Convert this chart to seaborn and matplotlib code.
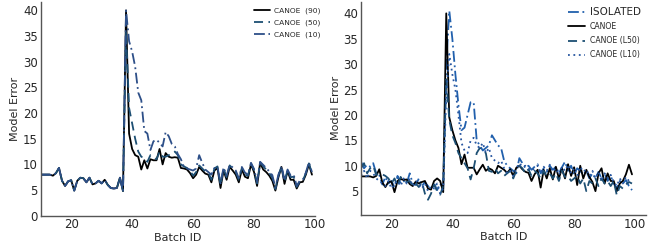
import numpy as np
import pandas as pd
import matplotlib
matplotlib.use("Agg")
import matplotlib.pyplot as plt
import seaborn as sns

batch = list(range(10, 100))

# left panel: shared part before the spike (batch 10..37)
pre_left = [8.0, 8.0, 8.0, 8.0, 7.8, 8.3, 9.3, 6.8, 5.8, 6.7, 6.9, 4.9, 6.8, 7.4,
            7.3, 6.5, 7.4, 6.1, 6.3, 6.8, 6.3, 7.0, 6.0, 5.4, 5.3, 5.4, 7.4, 4.8]
canoe90_post = [40.0, 16.0, 13.0, 11.8, 11.5, 9.0, 10.8, 9.2, 11.0, 10.8, 10.8, 13.0,
                10.0, 12.2, 11.5, 11.3, 11.4, 11.3, 9.3, 9.2, 9.0, 8.3, 7.3, 8.0, 9.5,
                8.8, 8.2, 8.0, 6.5, 8.8, 9.3, 5.4, 8.8, 7.0, 9.5, 8.8, 8.0, 6.5, 9.0,
                7.6, 7.3, 10.0, 8.5, 5.8, 10.3, 9.0, 8.5, 7.8, 6.8, 4.9, 7.5, 9.5, 6.2,
                8.7, 7.0, 7.0, 5.3, 6.5, 6.6, 8.0, 10.0, 8.0]
canoe50_post = [36.0, 21.0, 18.0, 15.0, 12.5, 11.5, 11.2, 10.5, 11.8, 11.5, 11.0, 12.5,
                11.5, 11.5, 11.8, 12.0, 12.5, 11.8, 10.0, 9.6, 9.3, 8.8, 7.8, 8.5, 9.8,
                9.2, 8.6, 8.4, 7.0, 9.2, 9.6, 6.0, 9.2, 7.5, 9.8, 9.2, 8.5, 7.0, 9.3,
                8.0, 7.8, 10.2, 8.9, 6.3, 10.4, 9.6, 9.0, 8.3, 7.4, 5.2, 7.8, 9.6, 6.6,
                8.9, 7.5, 7.6, 5.6, 6.7, 6.8, 8.3, 10.2, 8.3]
canoe10_post = [40.0, 34.0, 32.0, 29.0, 24.0, 22.5, 16.5, 16.0, 12.8, 14.5, 14.8, 14.2,
                13.5, 16.3, 15.5, 14.0, 13.5, 12.0, 11.0, 9.5, 9.2, 9.0, 8.8, 9.2, 11.8,
                10.3, 9.0, 8.5, 8.0, 9.3, 9.5, 6.3, 9.4, 7.8, 9.9, 9.4, 8.8, 7.3, 9.5,
                8.4, 8.0, 10.3, 9.1, 6.6, 10.5, 9.9, 9.3, 8.6, 7.9, 5.5, 8.0, 9.7, 6.9,
                9.0, 7.8, 8.0, 5.8, 6.8, 7.0, 8.4, 10.4, 8.5]

# right panel
isolated = [10.8, 9.5, 10.2, 9.8, 10.5, 8.5, 8.2, 6.3, 7.8, 6.5, 7.0, 5.8, 8.0, 6.5,
            7.0, 6.5, 8.5, 6.5, 6.2, 7.5, 6.0, 6.8, 6.0, 5.5, 6.5, 5.2, 6.5, 5.5,
            30.0, 40.5, 35.0, 28.0, 22.0, 17.0, 17.5, 20.0, 22.5, 22.5, 15.0, 14.0,
            13.0, 13.5, 14.0, 16.0, 15.0, 14.0, 13.5, 11.0, 10.0, 9.5, 9.0, 8.5, 11.5,
            10.5, 9.5, 10.0, 9.2, 9.8, 10.3, 8.5, 9.5, 8.8, 10.0, 9.2, 9.8, 8.5, 9.7,
            10.8, 9.0, 10.0, 8.3, 9.5, 9.0, 8.2, 9.0, 7.5, 8.5, 7.5, 8.8, 7.5, 8.5,
            7.0, 8.0, 6.5, 5.5, 7.0, 6.5, 7.2, 6.0, 5.2]
canoe = [7.9, 7.9, 7.9, 7.9, 7.7, 8.0, 9.3, 6.7, 5.8, 6.8, 6.9, 4.8, 7.0, 7.4,
         7.2, 7.3, 6.4, 6.0, 6.9, 6.5, 6.8, 7.0, 5.5, 5.3, 7.0, 7.5, 7.0, 4.8,
         40.0, 19.5, 17.0, 15.0, 13.5, 10.3, 12.2, 9.6, 9.6, 9.6, 8.3, 9.3, 10.2,
         9.0, 9.5, 9.2, 8.5, 10.0, 9.6, 9.2, 8.6, 9.3, 8.0, 9.6, 10.0, 9.3, 8.8,
         8.6, 7.0, 8.3, 9.2, 5.7, 9.2, 7.5, 9.5, 7.3, 9.8, 7.5, 9.5, 7.5, 10.3,
         8.0, 9.7, 6.2, 10.0, 7.5, 9.2, 7.8, 6.8, 5.0, 8.5, 9.5, 6.5, 8.5, 7.0,
         7.0, 5.0, 6.5, 7.0, 8.3, 10.2, 8.3]
canoe_l50 = [9.5, 10.5, 8.5, 9.5, 10.0, 8.2, 8.5, 8.3, 8.0, 7.5, 6.5, 7.5, 6.0, 7.8,
             7.0, 6.8, 7.0, 6.0, 6.5, 5.8, 6.8, 4.5, 3.3, 4.5, 6.3, 5.0, 4.3, 6.0,
             27.0, 19.0, 16.0, 14.5, 12.5, 11.5, 10.5, 9.5, 7.3, 9.5, 12.5, 13.5,
             13.0, 12.5, 9.0, 8.8, 9.5, 8.5, 9.0, 8.0, 8.5, 9.0, 7.5, 9.0, 10.0, 9.5,
             8.5, 9.3, 8.0, 9.0, 8.5, 7.5, 9.0, 8.0, 8.5, 7.5, 8.5, 7.0, 9.0, 7.8,
             8.0, 7.0, 7.5, 8.0, 6.5, 7.5, 5.0, 7.0, 6.5, 7.5, 6.0, 7.5, 6.5, 7.0,
             6.0, 7.0, 4.2, 6.0, 5.5, 6.3, 6.8, 6.5]
canoe_l10 = [8.0, 9.0, 7.5, 9.0, 8.5, 7.5, 7.0, 6.5, 6.0, 7.0, 5.5, 6.5, 7.0, 6.0,
             7.5, 6.5, 7.5, 6.0, 7.0, 6.5, 5.5, 6.5, 5.0, 6.0, 5.5, 6.5, 4.5, 5.5,
             24.0, 32.0, 28.0, 25.0, 20.0, 14.5, 13.0, 12.5, 15.0, 15.5, 14.0, 13.5,
             14.5, 12.5, 13.5, 11.5, 11.0, 10.5, 11.0, 9.5, 8.5, 9.0, 8.0, 9.5, 10.5,
             9.8, 10.0, 9.5, 9.0, 9.5, 10.0, 8.5, 9.8, 9.0, 10.2, 8.8, 9.5, 8.2, 9.8,
             9.0, 10.2, 8.5, 9.5, 8.0, 9.8, 8.8, 9.3, 8.0, 9.0, 7.5, 8.8, 7.0, 8.5,
             7.5, 8.2, 6.8, 6.0, 7.5, 6.5, 7.8, 7.0, 6.8]

sns.set_style("white")
plt.rcParams['font.family'] = ['DejaVu Sans']

fig = plt.figure(figsize=(6.57, 2.43), dpi=100)
ax1 = fig.add_axes([40.7 / 657, 1 - 215.7 / 243, (315 - 40.7) / 657, 214 / 243])
ax2 = fig.add_axes([361 / 657, 1 - 215 / 243, (646 - 361) / 657, 213.3 / 243])

left = pd.DataFrame({
    "batch": batch,
    "c90": pre_left + canoe90_post,
    "c50": pre_left + canoe50_post,
    "c10": pre_left + canoe10_post,
})
sns.lineplot(data=left, x="batch", y="c90", ax=ax1, color="black", lw=1.3, label="CANOE  (90)")
sns.lineplot(data=left, x="batch", y="c50", ax=ax1, color="#1d4f73", lw=1.3,
             linestyle=(0, (5, 3)), label="CANOE  (50)")
sns.lineplot(data=left, x="batch", y="c10", ax=ax1, color="#2d4f88", lw=1.3,
             linestyle=(0, (6, 2, 1, 2)), label="CANOE  (10)")
ax1.set_xlim(10, 100)
ax1.set_ylim(0, 41.7)
ax1.set_yticks([0, 5, 10, 15, 20, 25, 30, 35, 40])

right = pd.DataFrame({
    "batch": batch,
    "iso": isolated,
    "canoe": canoe,
    "l50": canoe_l50,
    "l10": canoe_l10,
})
sns.lineplot(data=right, x="batch", y="iso", ax=ax2, color="#2160ad", lw=1.3,
             linestyle=(0, (6, 2, 1, 2)), label="ISOLATED")
sns.lineplot(data=right, x="batch", y="canoe", ax=ax2, color="black", lw=1.3, label="CANOE")
sns.lineplot(data=right, x="batch", y="l50", ax=ax2, color="#1d4f73", lw=1.3,
             linestyle=(0, (5, 3)), label="CANOE (L50)")
sns.lineplot(data=right, x="batch", y="l10", ax=ax2, color="#2756a0", lw=1.3,
             linestyle=(0, (1, 2)), label="CANOE (L10)")
ax2.set_xlim(10, 103.6)
ax2.set_ylim(0.3, 42.3)
ax2.set_yticks([5, 10, 15, 20, 25, 30, 35, 40])

for ax in (ax1, ax2):
    ax.set_xticks([20, 40, 60, 80, 100])
    ax.set_xlabel("Batch ID", fontsize=8, labelpad=1)
    ax.set_ylabel("Model Error", fontsize=8, labelpad=2)
    ax.tick_params(direction="in", length=2.5, labelsize=8.5, pad=2, color="#444444")
    for s in ("top", "right"):
        ax.spines[s].set_visible(False)
    for s in ("left", "bottom"):
        ax.spines[s].set_color("#555555")
        ax.spines[s].set_linewidth(1.0)

leg1 = ax1.legend(loc="upper right", frameon=False, fontsize=5.4, handlelength=2.2,
                  handletextpad=0.5, labelspacing=0.75, borderaxespad=0.3,
                  bbox_to_anchor=(1.04, 1.0))
leg2 = ax2.legend(loc="upper right", frameon=False, fontsize=5.6, handlelength=2.2,
                  handletextpad=0.6, labelspacing=0.65, borderaxespad=0.3,
                  bbox_to_anchor=(1.0, 1.0))
leg2.get_texts()[0].set_fontsize(7.5)

fig.savefig("out.png", dpi=100)
